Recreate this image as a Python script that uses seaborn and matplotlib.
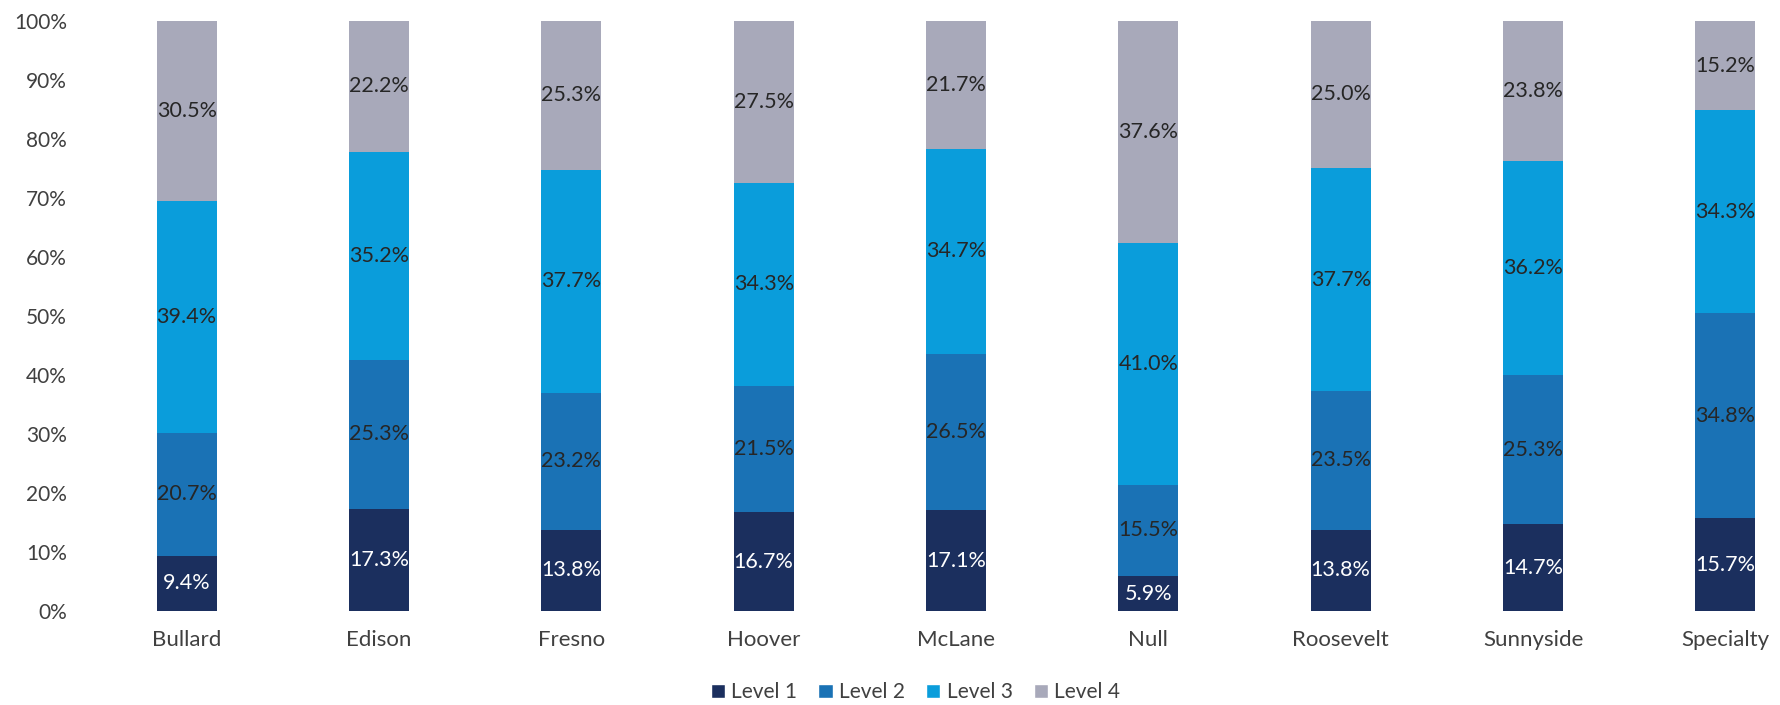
import pandas as pd
import matplotlib.pyplot as plt
import seaborn as sns
from matplotlib.patches import Patch
from matplotlib.ticker import PercentFormatter

schools = ["Bullard", "Edison", "Fresno", "Hoover", "McLane", "Null",
           "Roosevelt", "Sunnyside", "Specialty"]
levels = ["Level 1", "Level 2", "Level 3", "Level 4"]

level_1 = [9.4, 17.3, 13.8, 16.7, 17.1, 5.9, 13.8, 14.7, 15.7]
level_2 = [20.7, 25.3, 23.2, 21.5, 26.5, 15.5, 23.5, 25.3, 34.8]
level_3 = [39.4, 35.2, 37.7, 34.3, 34.7, 41.0, 37.7, 36.2, 34.3]
level_4 = [30.5, 22.2, 25.3, 27.5, 21.7, 37.6, 25.0, 23.8, 15.2]

level_colors = {
    "Level 1": "#1b2f5e",
    "Level 2": "#1a72b5",
    "Level 3": "#0a9ddb",
    "Level 4": "#a8a9ba",
}
label_colors = {"Level 1": "white", "Level 2": "#262626",
                "Level 3": "#262626", "Level 4": "#262626"}

sns.set_style("white")
plt.rcParams["font.family"] = ["Lato", "DejaVu Sans"]

# long-form table, then cumulative tops for stacking
rows = []
for lvl, vals in zip(levels, [level_1, level_2, level_3, level_4]):
    for s, v in zip(schools, vals):
        rows.append({"school": s, "level": lvl, "pct": v})
df = pd.DataFrame(rows)
df["level"] = pd.Categorical(df["level"], levels, ordered=True)
df = df.sort_values(["school", "level"])
df["top"] = df.groupby("school")["pct"].cumsum()
df["top"] = df["top"] / df.groupby("school")["pct"].transform("sum") * 100

fig = plt.figure(figsize=(17.81, 7.05), dpi=100)
ax = fig.add_axes([90.5 / 1781, 94 / 705, 1 - 90.5 / 1781, 590.3 / 705])

# draw from the top level down so each shorter bar sits over the taller one
for lvl in reversed(levels):
    sub = df[df["level"] == lvl]
    sns.barplot(data=sub, x="school", y="top", order=schools,
                color=level_colors[lvl], saturation=1, width=0.312,
                linewidth=0, edgecolor="none", ax=ax)

for _, r in df.iterrows():
    i = schools.index(r["school"])
    ax.text(i, r["top"] - r["pct"] / 2, f"{r['pct']:.1f}%",
            ha="center", va="center", fontsize=15.5,
            color=label_colors[r["level"]])

ax.set_xlim(-0.5, 8.289)
ax.set_ylim(0, 100)
ax.set_yticks(range(0, 101, 10))
ax.yaxis.set_major_formatter(PercentFormatter(decimals=0))
ax.set_xlabel("")
ax.set_ylabel("")
ax.tick_params(axis="y", length=0, pad=17, labelsize=15, labelcolor="#404040")
ax.tick_params(axis="x", length=0, pad=14, labelsize=16, labelcolor="#404040")
sns.despine(ax=ax, left=True, bottom=True)

handles = [Patch(facecolor=level_colors[l], label=l) for l in levels]
fig.legend(handles=handles, loc="center", bbox_to_anchor=(0.514, 0.018),
           ncol=4, frameon=False, fontsize=15, handlelength=0.7,
           handleheight=0.7, handletextpad=0.3, columnspacing=1.0,
           labelcolor="#404040")

fig.savefig("out.png", dpi=100)
